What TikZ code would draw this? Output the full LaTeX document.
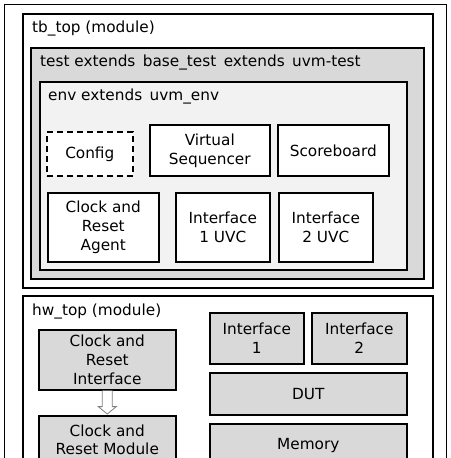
\documentclass[tikz,border=0pt]{standalone}
\usepackage{fontspec}
\setmainfont{DejaVu Sans}
\usetikzlibrary{positioning, calc}
\definecolor{testgray}{HTML}{D9D9D9}
\definecolor{envgray}{HTML}{F2F2F2}
\tikzset{
  container/.style={
    rectangle, draw=black, line width=1.5pt,
    anchor=north west, inner sep=0pt,
  },
  title/.style={
    anchor=west, inner sep=0pt, font=\fontsize{15.3}{19}\selectfont,
  },
  block/.style={
    rectangle, draw=black, line width=1.6pt, fill=white,
    anchor=north west, align=center, inner sep=0pt,
    font=\fontsize{15.3}{19}\selectfont,
  },
  hwblock/.style={
    block, fill=testgray,
  },
  cfgblock/.style={
    block, dashed, dash pattern=on 6pt off 4pt,
  },
  hollowarr/.style={
    draw=gray, fill=white, line width=0.8pt,
  }
}

\begin{document}
\begin{tikzpicture}[x=1pt, y=-1pt]
  \useasboundingbox (0,0) rectangle (450,458);
  \clip (0,0) rectangle (450,458);
  % frame
  \node[container, line width=1.2pt, minimum width=442pt, minimum height=470pt] (frame) at (4,4) {};
  % tb_top
  \node[container, minimum width=410pt, minimum height=274pt] (tbtop) at (22,13) {};
  \node[title] (tbtop-t) at (32,28) {tb\_top (module)};
  \node[container, fill=testgray, minimum width=393pt, minimum height=231pt] (test) at (30,47) {};
  \node[title] (test-t) at (40,62) {test extends\, base\_test\, extends\, uvm-test};
  \node[container, fill=envgray, minimum width=367pt, minimum height=188pt] (env) at (39,81) {};
  \node[title] (env-t) at (48,96) {env extends\, uvm\_env};
  \node[cfgblock, minimum width=86pt, minimum height=44pt] (config) at (46,131) {Config};
  \node[block, minimum width=120pt, minimum height=51pt] (vseq) at (149,124) {Virtual\\Sequencer};
  \node[block, minimum width=111pt, minimum height=51pt] (sb) at (277,124) {Scoreboard};
  \node[block, minimum width=111pt, minimum height=69pt] (cragent) at (47,192) {Clock and\\Reset\\Agent};
  \node[block, minimum width=94pt, minimum height=69pt] (if1uvc) at (175,192) {Interface\\1 UVC};
  \node[block, minimum width=94pt, minimum height=69pt] (if2uvc) at (278,192) {Interface\\2 UVC};
  % hw_top
  \node[container, minimum width=410pt, minimum height=180pt] (hwtop) at (22,295) {};
  \node[title] (hwtop-t) at (32,311) {hw\_top (module)};
  \node[hwblock, minimum width=137pt, minimum height=60pt] (crif) at (38,329) {Clock and\\Reset\\Interface};
  \node[hwblock, minimum width=137pt, minimum height=47pt,
    font=\fontsize{15.3}{18}\selectfont] (crmod) at (38,415) {Clock and\\Reset Module};
  \node[hwblock, minimum width=94pt, minimum height=51pt] (if1) at (209,312) {Interface\\1};
  \node[hwblock, minimum width=95pt, minimum height=51pt] (if2) at (311,312) {Interface\\2};
  \node[hwblock, minimum width=197pt, minimum height=42pt] (dut) at (209,372) {DUT};
  \node[hwblock, minimum width=197pt, minimum height=44pt] (mem) at (209,423) {Memory};
  % hollow arrow
  \draw[hollowarr] ([xshift=-5pt]crif.south) -- ([xshift=-5pt, yshift=-16pt]crif.south)
    -- ([xshift=-9pt, yshift=-16pt]crif.south) -- ([yshift=1pt]crmod.north)
    -- ([xshift=9pt, yshift=-16pt]crif.south) -- ([xshift=5pt, yshift=-16pt]crif.south)
    -- ([xshift=5pt]crif.south);
\end{tikzpicture}
\end{document}
